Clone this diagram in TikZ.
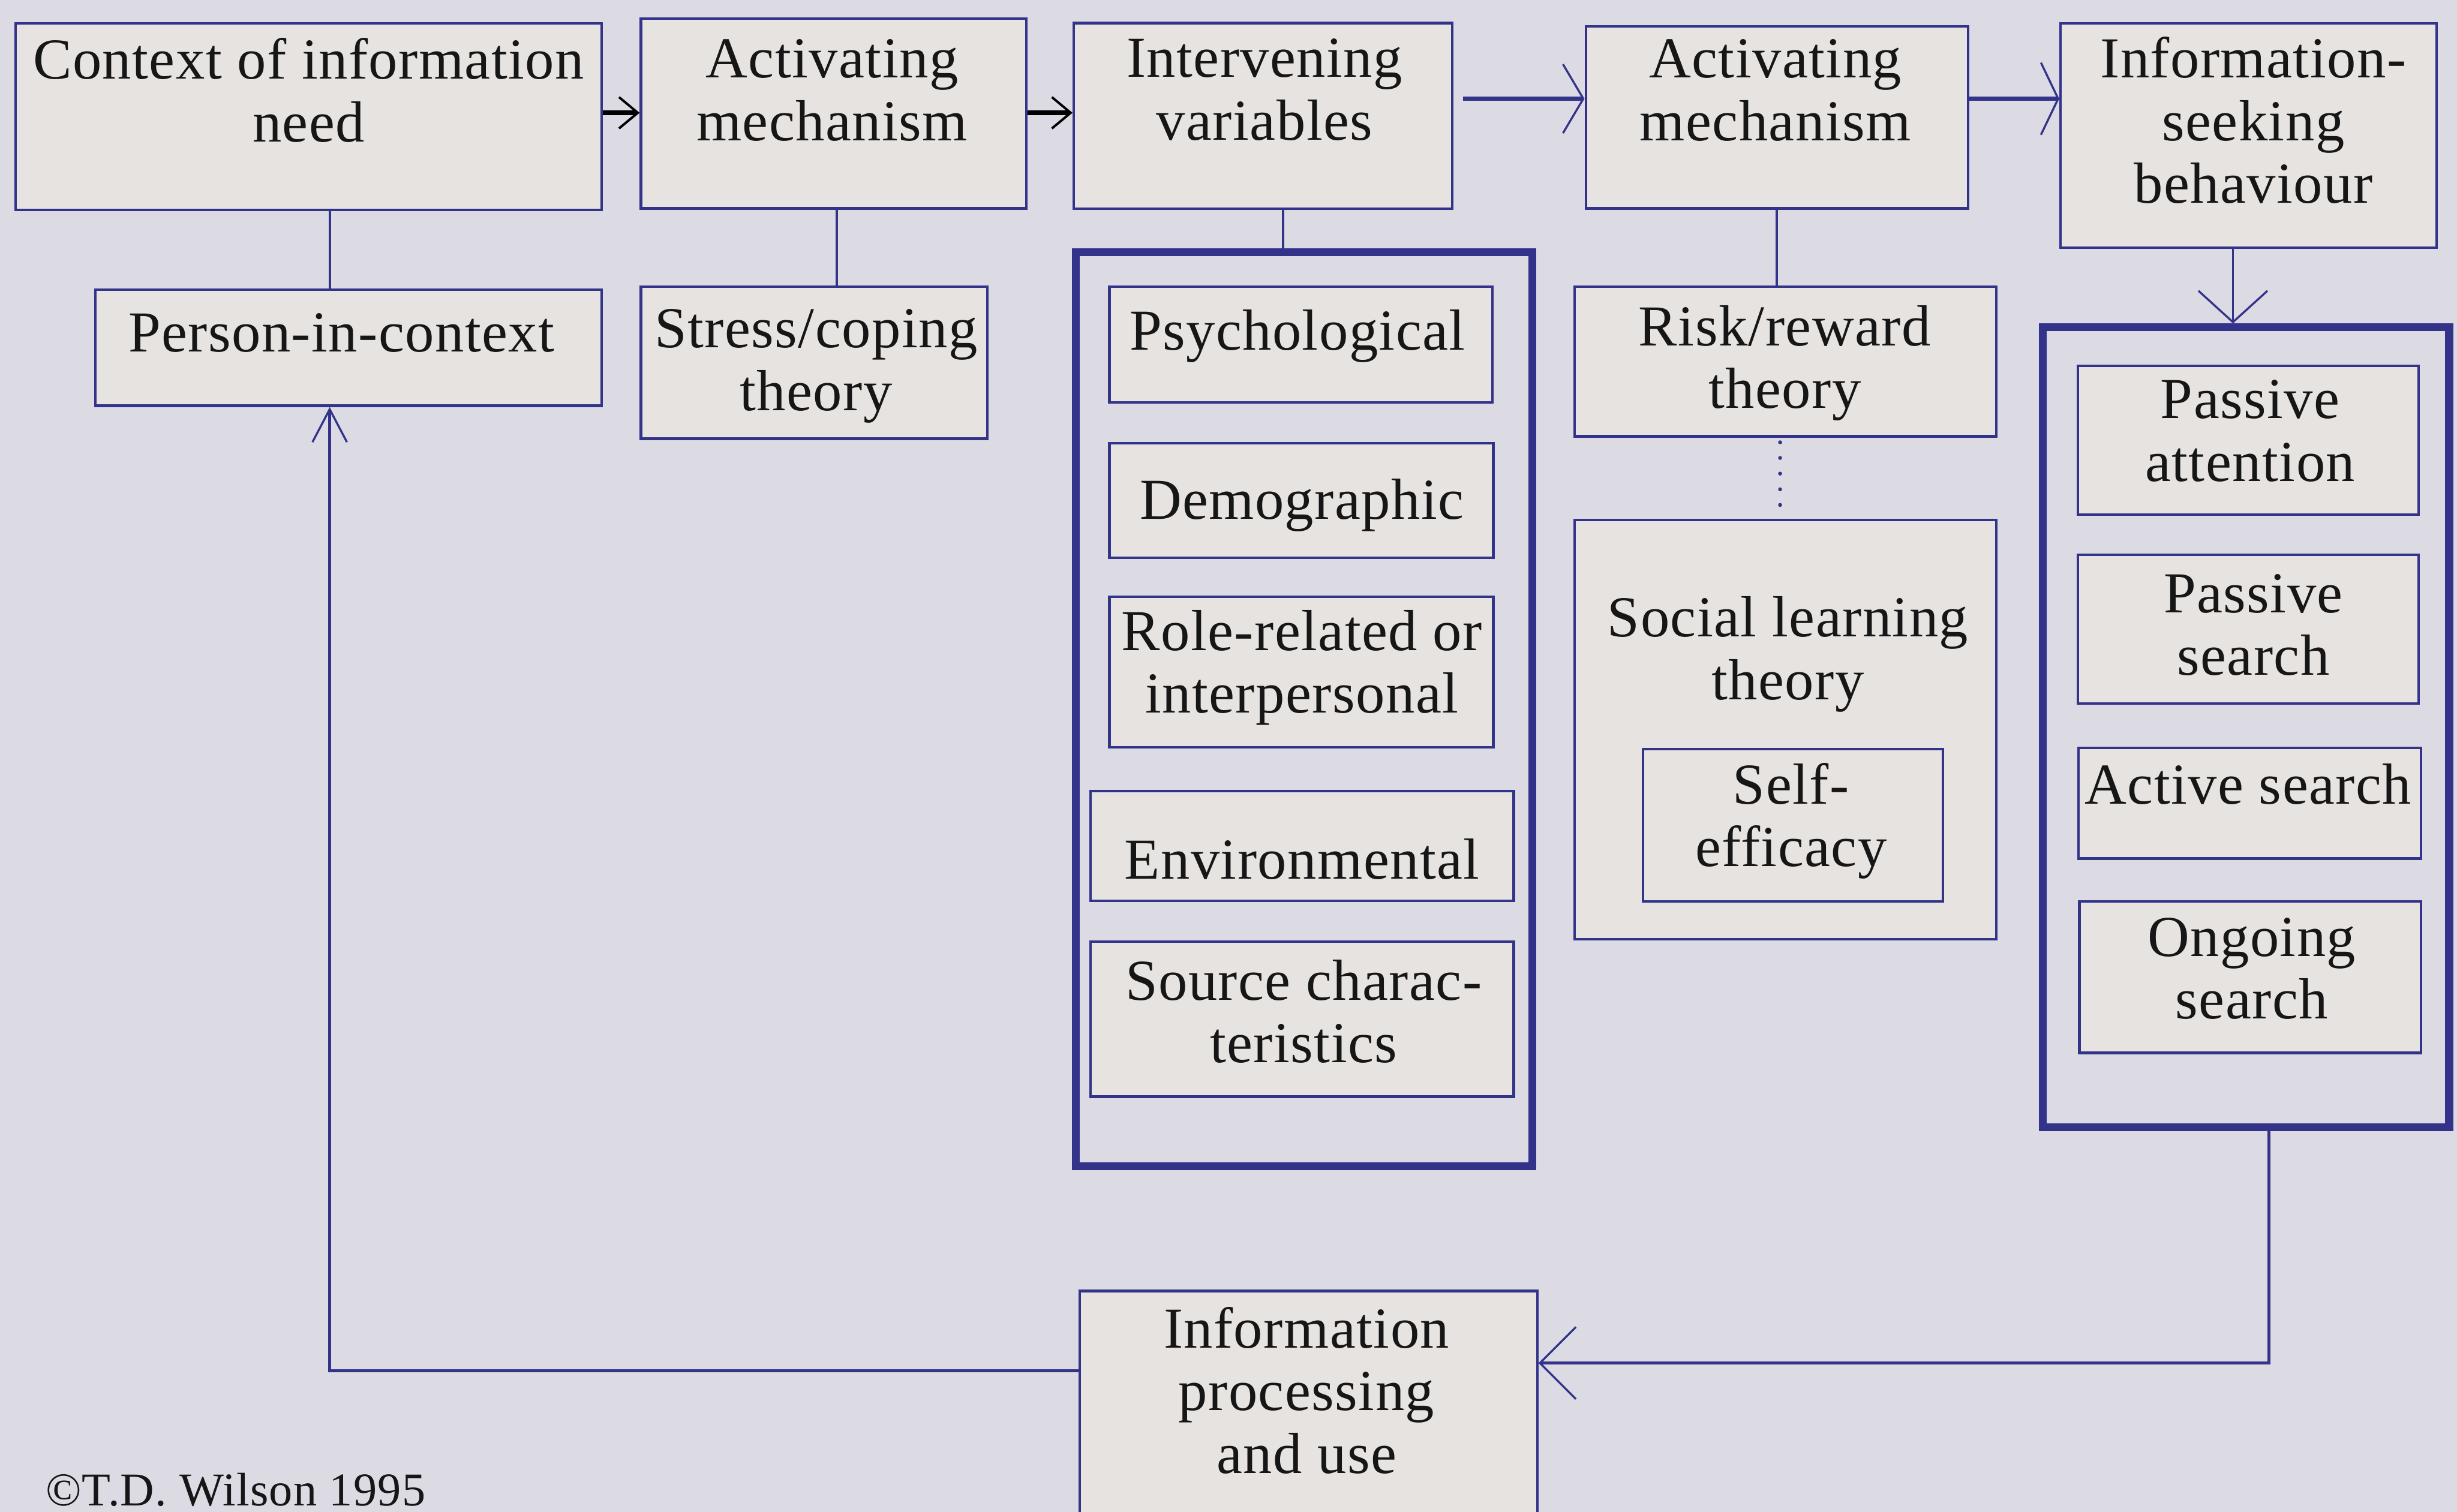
\documentclass[tikz,border=0pt]{standalone}
\usepackage{fontspec}
\setmainfont{Liberation Serif}[LetterSpace=1.5]
\usetikzlibrary{arrows.meta}
\definecolor{bgc}{HTML}{DCDBE4}
\definecolor{boxc}{HTML}{E6E3E0}
\definecolor{navy}{HTML}{33338A}
\definecolor{ink}{HTML}{161616}
\tikzset{
  bx/.style={draw=navy, fill=boxc, line width=1.6pt, inner sep=0pt, rectangle},
  tbx/.style={draw=navy, line width=5pt, inner sep=0pt, rectangle},
  lbl/.style={text=ink, align=center, inner sep=0pt, font=\fontsize{37}{40}\selectfont,
    execute at begin node=\strut, execute at end node=\strut},
  ln/.style={draw=navy, line width=1.5pt},
  smalltip/.style={-{Straight Barb[length=12pt,width=20pt,line width=1.5pt]}},
  bigtip/.style={-{Straight Barb[length=13pt,width=44pt,line width=1.3pt]}},
}
\begin{document}
\begin{tikzpicture}[x=1pt,y=-1pt]
\fill[bgc] (0,0) rectangle (1568,965);
\useasboundingbox (0,0) rectangle (1568,965);
\clip (0,0) rectangle (1568,965);

% top row
\node[bx, minimum width=374, minimum height=119] (ctx) at (197,74.5) {};
\node[lbl] (ctxT) at (197,63.5) {Context of information\\need};
\node[bx, minimum width=246, minimum height=121] (act1) at (532,72.5) {};
\node[lbl] (act1T) at (531,63.5) {Activating\\mechanism};
\node[bx, minimum width=241.5, minimum height=118.5] (iv) at (806,74) {};
\node[lbl] (ivT) at (807,63) {Intervening\\variables};
\node[bx, minimum width=244, minimum height=116] (act2) at (1134,75) {};
\node[lbl] (act2T) at (1133,63.5) {Activating\\mechanism};
\node[bx, minimum width=240, minimum height=143] (isb) at (1435,86.5) {};
\node[lbl] (isbT) at (1438,82.6) {Information-\\seeking\\behaviour};

% second row
\node[bx, minimum width=323, minimum height=74] (pic) at (222.5,222) {};
\node[lbl] (picT) at (218,216.4) {Person-in-context};
\node[bx, minimum width=221, minimum height=97] (stress) at (519.5,231.5) {};
\node[lbl] (stressT) at (520.8,235.7) {Stress/coping\\theory};

% intervening variables group
\node[tbx, minimum width=291.5, minimum height=583.5] (bb1) at (832.25,452.75) {};
\node[bx, minimum width=244.5, minimum height=74] (psy) at (830.25,220) {};
\node[lbl] (psyT) at (828,215.5) {Psychological};
\node[bx, minimum width=245, minimum height=73] (demo) at (830.5,319.5) {};
\node[lbl] (demoT) at (830.8,323.4) {Demographic};
\node[bx, minimum width=245, minimum height=96] (role) at (830.5,429) {};
\node[lbl] (roleT) at (830.8,428.3) {Role-related or\\interpersonal};
\node[bx, minimum width=270, minimum height=70] (env) at (831,540) {};
\node[lbl] (envT) at (831,553) {Environmental};
\node[bx, minimum width=270, minimum height=99] (src) at (831,650.5) {};
\node[lbl] (srcT) at (832,651.5) {Source charac-\\teristics};

% risk / social learning
\node[bx, minimum width=269, minimum height=95.5] (risk) at (1139.5,230.75) {};
\node[lbl] (riskT) at (1139,233.7) {Risk/reward\\theory};
\node[bx, minimum width=269, minimum height=267.5] (social) at (1139.5,465.75) {};
\node[lbl] (socialT) at (1141,419.7) {Social learning\\theory};
\node[bx, minimum width=191.5, minimum height=97.5] (self) at (1144.25,526.75) {};
\node[lbl] (selfT) at (1143,526) {Self-\\efficacy};

% information-seeking group
\node[tbx, minimum width=259.5, minimum height=510.5] (bb2) at (1433.25,464.25) {};
\node[bx, minimum width=217.5, minimum height=95] (pa) at (1434.75,281) {};
\node[lbl] (paT) at (1436,280.8) {Passive\\attention};
\node[bx, minimum width=217.5, minimum height=95] (ps) at (1434.75,401.5) {};
\node[lbl] (psT) at (1438,404.7) {Passive\\search};
\node[bx, minimum width=218.5, minimum height=70.5] (as) at (1435.75,512.75) {};
\node[lbl] (asT) at (1434.7,505.3) {Active search};
\node[bx, minimum width=218, minimum height=96.5] (os) at (1436,623.75) {};
\node[lbl] (osT) at (1437,624) {Ongoing\\search};

% bottom
\node[bx, minimum width=292, minimum height=186] (ipu) at (835,917) {};
\node[lbl] (ipuT) at (833.8,893.3) {Information\\processing\\and use};

\node[text=ink, inner sep=0pt, anchor=base west, font=\fontsize{30}{34}\selectfont] (copy) at (29,961) {©T.D. Wilson 1995};

% connectors, top row
\draw[black, line width=3pt, smalltip] (ctx.east |- 0,72) -- (act1.west |- 0,72);
\draw[black, line width=3pt, smalltip] (act1.east |- 0,72) -- (iv.west |- 0,72);
\draw[navy, line width=2.5pt, bigtip, shorten <=6pt] (iv.east |- 0,63) -- (act2.west |- 0,63);
\draw[navy, line width=3pt, -{Straight Barb[length=11pt,width=46pt,line width=1.3pt]}] (act2.east |- 0,63) -- (isb.west |- 0,63);

% vertical links
\draw[ln] (ctx.south -| 210.4,0) -- (pic.north -| 210.4,0);
\draw[ln] (act1.south -| 534,0) -- (stress.north -| 534,0);
\draw[ln] (iv.south -| 819,0) -- (bb1.north -| 819,0);
\draw[ln] (act2.south) -- (act2.south |- risk.north);
\draw[navy, line width=2.5pt, line cap=round, dash pattern=on 0pt off 10pt, shorten <=3pt, shorten >=8pt] (risk.south -| 1136,0) -- (social.north -| 1136,0);
\draw[ln, -{Straight Barb[length=20pt,width=44pt,line width=1.3pt]}] (isb.south -| 1425,0) -- (bb2.north -| 1425,0);

% feedback loop
\draw[navy, line width=2pt, -{Straight Barb[length=23pt,width=46pt,line width=1.3pt]}] (bb2.south -| 1448,0) |- (ipu.east |- 0,870);
\draw[navy, line width=2pt, -{Straight Barb[length=21pt,width=22pt,line width=1.3pt]}] (ipu.west |- 0,875) -| (pic.south -| 210.4,0);
\end{tikzpicture}
\end{document}
